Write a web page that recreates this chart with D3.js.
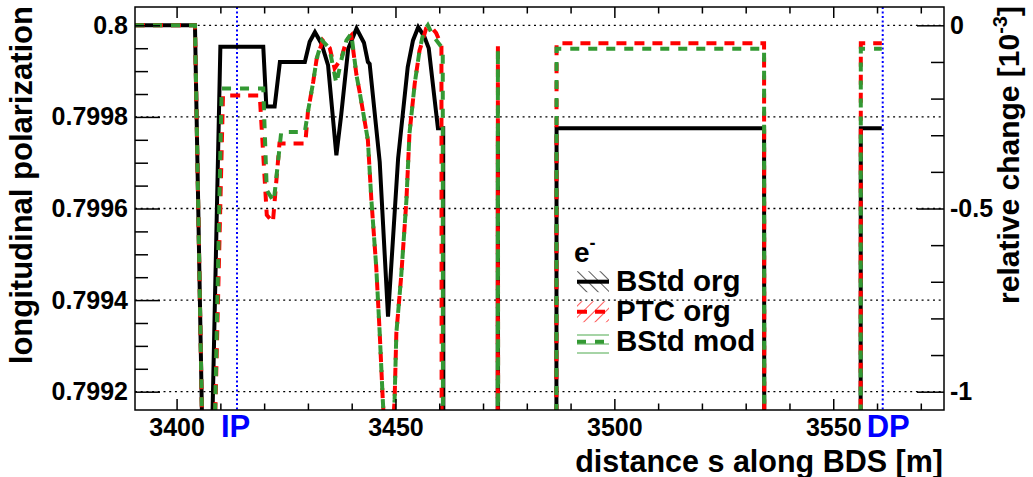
<!DOCTYPE html>
<html>
<head>
<meta charset="utf-8">
<script src="https://cdn.jsdelivr.net/npm/d3@7"></script>
<style>
  body { margin: 0; background: #fff; }
  svg text { font-family: "Liberation Sans", Arial, Helvetica, sans-serif; font-weight: bold; }
</style>
</head>
<body>
<svg id="chart" width="1033" height="477"></svg>
<script>
// --- data ---
const sBlack = [3390.5, 3404.2, 3406.0, 3408.0, 3410.0, 3419.8, 3420.5, 3422.4, 3423.6, 3429.3, 3430.4, 3431.6, 3433.1, 3434.6, 3436.5, 3437.6, 3439.2, 3441.1, 3442.8, 3443.7, 3444.1, 3446.4, 3448.3, 3450.6, 3452.8, 3454.0, 3455.2, 3456.6, 3457.6, 3459.7, 3460.9, 3461.0, 3473.3, 3473.4, 3473.5, 3486.7, 3486.8, 3534.2, 3534.3, 3556.2, 3556.3, 3561.1];
const pBlack = [0.8, 0.8, 0.79904, 0.79906, 0.799953, 0.799953, 0.799823, 0.799823, 0.79992, 0.79992, 0.799964, 0.799985, 0.79996, 0.799913, 0.799716, 0.799804, 0.799949, 0.799993, 0.799962, 0.79992, 0.799916, 0.799702, 0.799364, 0.799709, 0.799909, 0.799967, 0.799996, 0.799975, 0.79995, 0.799775, 0.799775, 0.7980, 0.7980, 0.79977, 0.7980, 0.7980, 0.799775, 0.799775, 0.7980, 0.7980, 0.799775, 0.799775];

const sRed = [3390.5, 3404.2, 3406.0, 3408.6, 3410.6, 3419.0, 3420.6, 3422.0, 3423.5, 3429.4, 3430.0, 3431.2, 3432.0, 3433.4, 3435.0, 3436.1, 3437.6, 3438.8, 3439.9, 3441.1, 3441.8, 3442.6, 3443.7, 3444.5, 3445.6, 3446.4, 3447.1, 3448.4, 3449.8, 3450.2, 3451.3, 3452.5, 3453.2, 3454.4, 3455.5, 3457.0, 3458.2, 3459.3, 3460.5, 3460.6, 3473.3, 3473.4, 3473.5, 3486.7, 3486.8, 3534.2, 3534.3, 3556.2, 3556.3, 3561.1];
const pRed = [0.8, 0.8, 0.79904, 0.79906, 0.799847, 0.799847, 0.799586, 0.79957, 0.799742, 0.799742, 0.799811, 0.799876, 0.799927, 0.799967, 0.79995, 0.799906, 0.799927, 0.799967, 0.799978, 0.799891, 0.799855, 0.799811, 0.799749, 0.799618, 0.799473, 0.799328, 0.799182, 0.798964, 0.799182, 0.799328, 0.799451, 0.799618, 0.799764, 0.799873, 0.799945, 0.799993, 0.799996, 0.799983, 0.799956, 0.7980, 0.7980, 0.79996, 0.7980, 0.7980, 0.799961, 0.799961, 0.7980, 0.7980, 0.799961, 0.799961];

const sGreen = [3390.5, 3404.2, 3406.0, 3408.6, 3410.3, 3419.8, 3420.6, 3422.2, 3423.9, 3429.3, 3430.0, 3431.2, 3432.0, 3433.2, 3434.9, 3436.5, 3437.7, 3438.8, 3439.9, 3441.1, 3441.8, 3442.6, 3443.7, 3444.5, 3445.6, 3446.4, 3447.1, 3448.4, 3449.8, 3450.2, 3451.3, 3452.5, 3453.2, 3454.4, 3455.5, 3456.4, 3457.4, 3458.5, 3460.8, 3460.9, 3473.3, 3473.4, 3473.5, 3486.7, 3486.8, 3534.2, 3534.3, 3556.2, 3556.3, 3561.1];
const pGreen = [0.8, 0.8, 0.79904, 0.79906, 0.799862, 0.799862, 0.79964, 0.799615, 0.799767, 0.799767, 0.799811, 0.799876, 0.799927, 0.799967, 0.79995, 0.799873, 0.799927, 0.799967, 0.799982, 0.799891, 0.799855, 0.799811, 0.799749, 0.799618, 0.799473, 0.799328, 0.799182, 0.798964, 0.799182, 0.799328, 0.799451, 0.799618, 0.799764, 0.799873, 0.799945, 0.799985, 0.8, 0.799978, 0.799949, 0.7980, 0.7980, 0.799949, 0.7980, 0.7980, 0.799949, 0.799949, 0.7980, 0.7980, 0.799949, 0.799949];

const seriesNames = ["BStd org", "PTC org", "BStd mod"];

const xTicks = [3400, 3450, 3500, 3550];
const xMinor = [3410, 3420, 3430, 3440, 3460, 3470, 3480, 3490, 3510, 3520, 3530, 3540, 3560, 3570];
const yTicks = [0.8, 0.7998, 0.7996, 0.7994, 0.7992];
const yTickLabels = ["0.8", "0.7998", "0.7996", "0.7994", "0.7992"];
const yMinor = [0.79995, 0.7999, 0.79985, 0.79975, 0.7997, 0.79965, 0.79955, 0.7995, 0.79945, 0.79935, 0.7993, 0.79925];
const rTicks = [0, -0.5, -1];
const rTickLabels = ["0", "-0.5", "-1"];
const rMinor = [-0.1, -0.2, -0.3, -0.4, -0.6, -0.7, -0.8, -0.9];

const markerPos = [3413.8, 3561.3];
const markerLabels = ["IP", "DP"];

// --- layout ---
const svg = d3.select("#chart");
const mLeft = 135, mRight = 944, mTop = 7, mBottom = 410;

const x = d3.scaleLinear().domain([3390.5, 3575.3]).range([mLeft, mRight]);
const y = d3.scaleLinear().domain([0.79916, 0.80004]).range([mBottom, mTop]);
const yR = d3.scaleLinear().domain(y.domain().map(p => (p / 0.8 - 1) * 1000)).range([mBottom, mTop]);

const defs = svg.append("defs");
defs.append("clipPath").attr("id", "plotClip")
    .append("rect").attr("x", mLeft).attr("y", mTop).attr("width", mRight - mLeft).attr("height", mBottom - mTop);

// hatch patterns for the legend boxes
function hatch(id, angle, color, size) {
    const p = defs.append("pattern").attr("id", id)
        .attr("patternUnits", "userSpaceOnUse")
        .attr("width", size).attr("height", size)
        .attr("patternTransform", `rotate(${angle})`);
    p.append("line").attr("x1", 0).attr("y1", 0).attr("x2", 0).attr("y2", size)
        .attr("stroke", color).attr("stroke-width", 1.3);
}
hatch("hatchBlack", -45, "#000", 8);
hatch("hatchRed", 45, "#ff0000", 8);
defs.append("pattern").attr("id", "hatchGreen")
    .attr("patternUnits", "userSpaceOnUse").attr("width", 10).attr("height", 9)
    .append("line").attr("x1", 0).attr("x2", 10).attr("y1", 2).attr("y2", 2)
    .attr("stroke", "#8fc98f").attr("stroke-width", 1.6);

// grid
svg.append("g")
    .selectAll("line")
    .data(yTicks)
    .join("line")
    .attr("x1", mLeft).attr("x2", mRight)
    .attr("y1", d => y(d)).attr("y2", d => y(d))
    .attr("stroke", "#000").attr("stroke-width", 1.3)
    .attr("stroke-dasharray", "2,3.7");

// IP / DP markers
svg.append("g")
    .selectAll("line")
    .data(markerPos)
    .join("line")
    .attr("x1", d => x(d)).attr("x2", d => x(d))
    .attr("y1", mTop).attr("y2", mBottom)
    .attr("stroke", "#0000ff").attr("stroke-width", 2)
    .attr("stroke-dasharray", "2,2.5");

svg.append("g")
    .selectAll("text")
    .data(markerPos)
    .join("text")
    .attr("x", d => x(d) - 16)
    .attr("y", 437)
    .attr("fill", "#0000ff")
    .style("font-size", "31px")
    .text((_, i) => markerLabels[i]);

// curves
const line = d3.line().x(d => x(d[0])).y(d => y(d[1]));
const series = [
    { s: sBlack, p: pBlack, color: "#000", dash: null, hatch: "hatchBlack" },
    { s: sRed, p: pRed, color: "#ff0000", dash: "10,8", hatch: "hatchRed" },
    { s: sGreen, p: pGreen, color: "#339933", dash: "9,9", hatch: "hatchGreen" }
];

const curves = svg.append("g").attr("clip-path", "url(#plotClip)");
series.forEach(sr => {
    curves.append("path")
        .datum(d3.zip(sr.s, sr.p))
        .attr("d", line)
        .attr("fill", "none")
        .attr("stroke", sr.color)
        .attr("stroke-width", 4)
        .attr("stroke-linejoin", "miter")
        .attr("stroke-miterlimit", 3)
        .attr("stroke-dasharray", sr.dash);
});

// axes
function styleAxis(g, size) {
    g.select(".domain").remove();
    g.selectAll("line").attr("stroke", "#000").attr("stroke-width", 1.5);
    g.selectAll("text").attr("fill", "#000")
        .style("font-size", size + "px")
        .style("font-family", "'Liberation Sans', Arial, sans-serif")
        .style("font-weight", "bold");
}

svg.append("g").attr("transform", `translate(${mLeft},0)`)
    .call(d3.axisLeft(y).tickValues(yMinor).tickSize(-13).tickFormat(""))
    .call(g => styleAxis(g, 25));
svg.append("g").attr("transform", `translate(${mLeft},0)`)
    .call(d3.axisLeft(y).tickValues(yTicks).tickSize(-25).tickPadding(7).tickFormat((d, i) => yTickLabels[i]))
    .call(g => styleAxis(g, 25));

svg.append("g").attr("transform", `translate(${mRight},0)`)
    .call(d3.axisRight(yR).tickValues(rMinor).tickSize(-13).tickFormat(""))
    .call(g => styleAxis(g, 25));
svg.append("g").attr("transform", `translate(${mRight},0)`)
    .call(d3.axisRight(yR).tickValues(rTicks).tickSize(-27).tickPadding(6).tickFormat((d, i) => rTickLabels[i]))
    .call(g => styleAxis(g, 25));

svg.append("g").attr("transform", `translate(0,${mBottom})`)
    .call(d3.axisBottom(x).tickValues(xMinor).tickSize(-6.5).tickFormat(""))
    .call(g => styleAxis(g, 25));
svg.append("g").attr("transform", `translate(0,${mBottom})`)
    .call(d3.axisBottom(x).tickValues(xTicks).tickSize(-11).tickPadding(8).tickFormat(d3.format("d")))
    .call(g => styleAxis(g, 25));
svg.append("g").attr("transform", `translate(0,${mTop})`)
    .call(d3.axisTop(x).tickValues(xMinor).tickSize(-6.5).tickFormat(""))
    .call(g => styleAxis(g, 25));
svg.append("g").attr("transform", `translate(0,${mTop})`)
    .call(d3.axisTop(x).tickValues(xTicks).tickSize(-11).tickFormat(""))
    .call(g => styleAxis(g, 25));

// frame
svg.append("rect")
    .attr("x", mLeft).attr("y", mTop)
    .attr("width", mRight - mLeft).attr("height", mBottom - mTop)
    .attr("fill", "none").attr("stroke", "#000").attr("stroke-width", 1.5);

// axis titles
svg.append("text")
    .attr("transform", `translate(32,6) rotate(-90)`)
    .attr("text-anchor", "end")
    .style("font-size", "31px")
    .text("longitudinal polarization");

const rt = svg.append("text")
    .attr("transform", `translate(1019,6) rotate(-90)`)
    .attr("text-anchor", "end")
    .style("font-size", "30px");
rt.append("tspan").text("relative change [10");
rt.append("tspan").attr("dy", -12).style("font-size", "20px").text("-3");
rt.append("tspan").attr("dy", 12).text("]");

svg.append("text")
    .attr("x", 943).attr("y", 471.5)
    .attr("text-anchor", "end")
    .style("font-size", "30.5px")
    .text("distance s along BDS [m]");

// legend
const lg = svg.append("g");
const e = lg.append("text").attr("x", 574).attr("y", 262).style("font-size", "28px");
e.append("tspan").text("e");
e.append("tspan").attr("dy", -13).style("font-size", "18px").text("-");

const rowY = [281.7, 311.7, 341.7];
series.forEach((sr, i) => {
    const cy = rowY[i];
    lg.append("rect")
        .attr("x", 577).attr("y", i === 2 ? cy - 8.7 : cy - 10.5)
        .attr("width", 32).attr("height", 21)
        .attr("fill", `url(#${sr.hatch})`);
    lg.append("line")
        .attr("x1", 577).attr("x2", 609)
        .attr("y1", cy).attr("y2", cy)
        .attr("stroke", sr.color).attr("stroke-width", 4)
        .attr("stroke-dasharray", sr.dash);
    lg.append("text")
        .attr("x", 616).attr("y", cy + 9)
        .style("font-size", "29.5px")
        .text(seriesNames[i]);
});
</script>
</body>
</html>
